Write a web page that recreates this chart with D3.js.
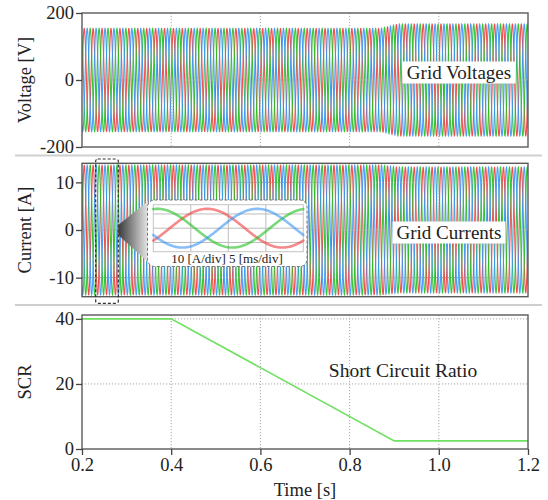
<!DOCTYPE html>
<html>
<head>
<meta charset="utf-8">
<script src="https://cdn.jsdelivr.net/npm/d3@7"></script>
<style>
  html, body { margin: 0; padding: 0; background: #fff; }
  svg { display: block; }
</style>
</head>
<body>
<svg id="chart" width="548" height="500"></svg>
<script>
// ---- data ----
const timeDomain = [0.2, 1.2];
const timeTicks = [0.2, 0.4, 0.6, 0.8, 1.0, 1.2];

const voltageTicks = [-200, 0, 200];
const currentTicks = [-10, 0, 10];
const scrTicks = [0, 20, 40];

// short circuit ratio profile (breakpoints)
const scrTime = [0.2, 0.4, 0.9, 1.2];
const scrValue = [40, 40, 2.5, 2.5];

// three-phase grid quantities
const gridFrequency = 50;                 // Hz
const phaseShiftDeg = [0, 120, -120];     // phase a, b, c
const phaseColors = ["#f03c3c", "#22c022", "#3a95f5"];

// peak amplitude envelopes (breakpoints)
const voltageEnvTime = [0.2, 0.87, 0.91, 1.2];
const voltageEnvPeak = [154, 154, 167, 167];
const currentEnvTime = [0.2, 0.87, 0.91, 1.2];
const currentEnvPeak = [13.6, 13.6, 13.2, 13.2];

// zoomed detail window of the currents
const detailStart = 0.2578;   // s
const detailSpan = 0.02;      // s (4 x 5 ms)
const detailTicksMs = [5, 10, 15];
const detailCurrentTicks = [-10, 0, 10];

const SERIF = '"Liberation Serif", "DejaVu Serif", serif';

// ---- layout ----
const svg = d3.select("#chart");
const X0 = 82, X1 = 528;
const x = d3.scaleLinear().domain(timeDomain).range([X0, X1]);

const panels = {
  v: { top: 13, bottom: 147, domain: [-200, 200], ticks: voltageTicks, title: "Voltage [V]" },
  i: { top: 163.3, bottom: 296.7, domain: [-14, 14], ticks: currentTicks, title: "Current [A]" },
  s: { top: 315, bottom: 449, domain: [0, 41.2], ticks: scrTicks, title: "SCR" }
};
Object.values(panels).forEach(p => {
  p.y = d3.scaleLinear().domain(p.domain).range([p.bottom, p.top]);
});

function txt(sel, size) {
  return sel.style("font-family", SERIF).style("font-size", size + "px").style("fill", "#222");
}

// separators between panels
[155.5, 305].forEach(yy => {
  svg.append("line").attr("x1", 15).attr("x2", 542).attr("y1", yy).attr("y2", yy)
    .attr("stroke", "#cfcfcf").attr("stroke-width", 2);
});

const defs = svg.append("defs");

function clipFor(id, p) {
  defs.append("clipPath").attr("id", id).append("rect")
    .attr("x", X0).attr("y", p.top).attr("width", X1 - X0).attr("height", p.bottom - p.top);
}
clipFor("clip-v", panels.v);
clipFor("clip-i", panels.i);
clipFor("clip-s", panels.s);

// three-phase waveform samples
function phaseSeries(envT, envA, shiftDeg, t0, t1, dt) {
  const env = d3.scaleLinear().domain(envT).range(envA).clamp(true);
  const pts = [];
  for (let t = t0; t <= t1 + 1e-9; t += dt) {
    const ang = 2 * Math.PI * gridFrequency * t + shiftDeg * Math.PI / 180;
    pts.push([t, env(t) * Math.sin(ang)]);
  }
  return pts;
}

function drawWaves(p, clipId, envT, envA) {
  const g = svg.append("g").attr("clip-path", `url(#${clipId})`);
  const line = d3.line().x(d => x(d[0])).y(d => p.y(d[1]));
  phaseShiftDeg.forEach((sh, k) => {
    g.append("path")
      .attr("d", line(phaseSeries(envT, envA, sh, timeDomain[0], timeDomain[1], 0.0004)))
      .attr("fill", "none").attr("stroke", phaseColors[k])
      .attr("stroke-width", 1.1).attr("stroke-opacity", 0.9);
  });
}

function drawGrid(p, clipId) {
  const g = svg.append("g").attr("clip-path", `url(#${clipId})`);
  g.selectAll(".vg").data(timeTicks.slice(1, -1)).join("line")
    .attr("x1", d => x(d)).attr("x2", d => x(d)).attr("y1", p.top).attr("y2", p.bottom)
    .attr("stroke", "#a8a8a8").attr("stroke-width", 1).attr("stroke-dasharray", "1.2,1.8");
  g.selectAll(".hg").data(p.ticks.filter(t => t > p.domain[0] && t < p.domain[1])).join("line")
    .attr("x1", X0).attr("x2", X1).attr("y1", d => p.y(d)).attr("y2", d => p.y(d))
    .attr("stroke", "#a8a8a8").attr("stroke-width", 1).attr("stroke-dasharray", "1.2,1.8");
}

function drawFrame(p, withX) {
  svg.append("rect").attr("x", X0).attr("y", p.top).attr("width", X1 - X0).attr("height", p.bottom - p.top)
    .attr("fill", "none").attr("stroke", "#5a5a5a").attr("stroke-width", 1.4);
  const ya = svg.append("g").attr("transform", `translate(${X0},0)`)
    .call(d3.axisLeft(p.y).tickValues(p.ticks).tickSize(6).tickPadding(2).tickFormat(d => String(d)));
  ya.select(".domain").remove();
  ya.selectAll("line").attr("stroke", "#444").attr("stroke-width", 1.3);
  txt(ya.selectAll("text"), 18.5);
  txt(svg.append("text").attr("transform", `translate(31,${(p.top + p.bottom) / 2}) rotate(-90)`)
    .attr("text-anchor", "middle").text(p.title), 18.5);
  if (withX) {
    const xa = svg.append("g").attr("transform", `translate(0,${p.bottom})`)
      .call(d3.axisBottom(x).tickValues(timeTicks).tickSize(6).tickPadding(3).tickFormat(d3.format(".1f")));
    xa.select(".domain").remove();
    xa.selectAll("line").attr("stroke", "#444").attr("stroke-width", 1.3);
    txt(xa.selectAll("text"), 18.5);
  }
}

function boxedLabel(label, cx, cy, w, h, size) {
  svg.append("rect").attr("x", cx - w / 2).attr("y", cy - h / 2).attr("width", w).attr("height", h)
    .attr("fill", "#fff");
  txt(svg.append("text").attr("x", cx).attr("y", cy).attr("dy", "0.35em")
    .attr("text-anchor", "middle").text(label), size);
}

// ---- voltage panel ----
drawWaves(panels.v, "clip-v", voltageEnvTime, voltageEnvPeak);
drawGrid(panels.v, "clip-v");
drawFrame(panels.v, false);
boxedLabel("Grid Voltages", 459, 72.5, 113, 22, 19);

// ---- current panel ----
drawWaves(panels.i, "clip-i", currentEnvTime, currentEnvPeak);
drawGrid(panels.i, "clip-i");
drawFrame(panels.i, false);
boxedLabel("Grid Currents", 449, 232.5, 113, 22, 19);

// detail window marker
const wx0 = x(detailStart - 0.0271), wx1 = x(detailStart + 0.0236);
svg.append("rect").attr("x", wx0).attr("y", 159).attr("width", wx1 - wx0).attr("height", 144.3)
  .attr("rx", 2).attr("fill", "none").attr("stroke", "#333").attr("stroke-width", 1.2)
  .attr("stroke-dasharray", "3,2");

// funnel towards detail view
const grad = defs.append("linearGradient").attr("id", "funnel").attr("x1", "0%").attr("x2", "100%");
grad.append("stop").attr("offset", "0%").attr("stop-color", "#3a3a3a");
grad.append("stop").attr("offset", "100%").attr("stop-color", "#e6e6e6");
svg.append("path")
  .attr("d", `M${wx1},225 L148,201 L148,262 L${wx1},235 Z`)
  .attr("fill", "url(#funnel)");

// detail view box
const inset = { x0: 147.5, y0: 200, x1: 307, y1: 266.5 };
svg.append("rect").attr("x", inset.x0).attr("y", inset.y0)
  .attr("width", inset.x1 - inset.x0).attr("height", inset.y1 - inset.y0)
  .attr("rx", 7).attr("fill", "#fff").attr("stroke", "#777").attr("stroke-width", 1)
  .attr("stroke-dasharray", "3,2");

const dx = d3.scaleLinear().domain([detailStart, detailStart + detailSpan]).range([153.3, 303.3]);
const dy = d3.scaleLinear().domain([-16.5, 16.5]).range([251.7, 204.7]);
const dg = svg.append("g");
dg.selectAll(".dv").data(detailTicksMs).join("line")
  .attr("x1", d => dx(detailStart + d / 1000)).attr("x2", d => dx(detailStart + d / 1000))
  .attr("y1", 204.7).attr("y2", 251.7).attr("stroke", "#bdbdbd").attr("stroke-width", 1);
dg.selectAll(".dh").data(detailCurrentTicks).join("line")
  .attr("x1", 153.3).attr("x2", 303.3).attr("y1", d => dy(d)).attr("y2", d => dy(d))
  .attr("stroke", "#bdbdbd").attr("stroke-width", 1);
dg.append("rect").attr("x", 153.3).attr("y", 204.7).attr("width", 150).attr("height", 47)
  .attr("fill", "none").attr("stroke", "#c4c4c4").attr("stroke-width", 1);
const dline = d3.line().x(d => dx(d[0])).y(d => dy(d[1]));
phaseShiftDeg.forEach((sh, k) => {
  dg.append("path")
    .attr("d", dline(phaseSeries(currentEnvTime, currentEnvPeak, sh, detailStart, detailStart + detailSpan, 0.0001)))
    .attr("fill", "none").attr("stroke", phaseColors[k]).attr("stroke-width", 2.6)
    .attr("stroke-opacity", 0.6).attr("stroke-linecap", "round");
});
txt(svg.append("text").attr("x", 227).attr("y", 258.5).attr("dy", "0.35em")
  .attr("text-anchor", "middle").text("10 [A/div] 5 [ms/div]"), 13);

// ---- SCR panel ----
drawGrid(panels.s, "clip-s");
svg.append("path")
  .attr("d", d3.line().x(d => x(d[0])).y(d => panels.s.y(d[1]))(scrTime.map((t, k) => [t, scrValue[k]])))
  .attr("fill", "none").attr("stroke", "#6fe060").attr("stroke-width", 1.6)
  .attr("clip-path", "url(#clip-s)");
drawFrame(panels.s, true);
txt(svg.append("text").attr("x", 403).attr("y", 370).attr("dy", "0.35em")
  .attr("text-anchor", "middle").text("Short Circuit Ratio"), 19.5);
txt(svg.append("text").attr("x", (X0 + X1) / 2).attr("y", 490).attr("dy", "0.35em")
  .attr("text-anchor", "middle").text("Time [s]"), 18.5);
</script>
</body>
</html>
